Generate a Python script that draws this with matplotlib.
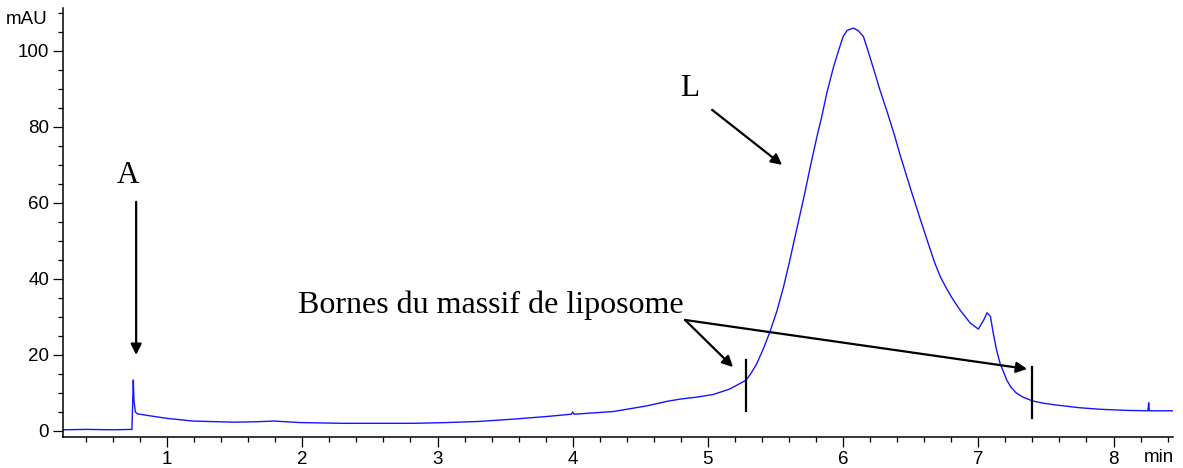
import numpy as np
import matplotlib
matplotlib.use("Agg")
import matplotlib.pyplot as plt
from matplotlib.ticker import MultipleLocator

# Chromatogram trace (time in min, absorbance in mAU)
time_min = [
    0.23, 0.40, 0.60, 0.74, 0.745, 0.75, 0.755, 0.765, 0.78, 0.85,
    1.00, 1.19, 1.49, 1.65, 1.79, 1.98, 2.30, 2.58, 2.82, 3.07,
    3.31, 3.56, 3.81, 3.99, 4.00, 4.01, 4.30, 4.55, 4.70, 4.80,
    4.92, 5.04, 5.16, 5.28, 5.32, 5.36, 5.41, 5.46, 5.51, 5.56,
    5.60, 5.65, 5.71, 5.76, 5.81, 5.84, 5.88, 5.93, 5.97, 6.00,
    6.03, 6.075, 6.11, 6.15, 6.18, 6.22, 6.27, 6.33, 6.38, 6.42,
    6.50, 6.57, 6.63, 6.68, 6.72, 6.76, 6.80, 6.865, 6.94, 7.00,
    7.04, 7.065, 7.09, 7.11, 7.135, 7.16, 7.21, 7.24, 7.28, 7.33,
    7.40, 7.48, 7.58, 7.75, 7.90, 8.10, 8.255, 8.26, 8.265, 8.44,
]
absorbance = [
    0.3, 0.4, 0.3, 0.4, 7.0, 13.4, 8.0, 5.0, 4.5, 4.1,
    3.3, 2.6, 2.3, 2.4, 2.6, 2.2, 2.0, 2.0, 2.0, 2.2,
    2.5, 3.1, 3.8, 4.4, 5.0, 4.4, 5.1, 6.6, 7.8, 8.4,
    8.9, 9.6, 11.0, 13.3, 15.2, 17.6, 21.6, 26.2, 31.5, 38.0,
    44.0, 52.0, 61.5, 70.0, 78.0, 82.4, 89.0, 95.9, 100.5, 103.8,
    105.4, 106.0, 105.4, 103.8, 100.5, 95.9, 90.0, 83.5, 77.8, 72.8,
    63.6, 55.8, 49.3, 44.0, 40.5, 37.8, 35.3, 31.8, 28.4, 26.8,
    29.2, 31.1, 30.1, 25.8, 21.3, 17.9, 13.4, 11.6, 10.0, 8.9,
    7.9, 7.3, 6.8, 6.1, 5.7, 5.4, 5.3, 7.4, 5.3, 5.3,
]

# Integration limits of the liposome peak
bounds_t = [5.28, 7.40]
bounds_lo = [5.3, 3.5]
bounds_hi = [18.7, 16.8]

ser = "Liberation Serif"
sans = "Liberation Sans"

fig = plt.figure(figsize=(11.83, 4.68), dpi=100)
ax = fig.add_axes([63 / 1183, 31 / 468, (1173 - 63) / 1183, (437 - 8) / 468])

ax.plot(time_min, absorbance, color="#1414ff", lw=1.0)

for t, lo, hi in zip(bounds_t, bounds_lo, bounds_hi):
    ax.plot([t, t], [lo, hi], color="k", lw=1.6)

ax.set_xlim(0.23, 8.44)
ax.set_ylim(-1.6, 111.3)

ax.xaxis.set_major_locator(MultipleLocator(1))
ax.xaxis.set_minor_locator(MultipleLocator(0.2))
ax.yaxis.set_major_locator(MultipleLocator(20))
ax.yaxis.set_minor_locator(MultipleLocator(5))
ax.tick_params(which="major", length=7.5, width=0.9, labelsize=13.5, pad=2.5)
ax.tick_params(which="minor", length=3.8, width=0.9)
for lab in ax.get_xticklabels() + ax.get_yticklabels():
    lab.set_fontfamily(sans)

for side in ("top", "right"):
    ax.spines[side].set_visible(False)
for side in ("left", "bottom"):
    ax.spines[side].set_linewidth(1.1)

# axis units
ax.annotate("mAU", xy=(0, 1), xycoords="axes fraction", xytext=(-10.8, -8.6),
            textcoords="offset points", ha="right", va="center",
            fontsize=13.5, family=sans)
ax.annotate("min", xy=(1, 0), xycoords="axes fraction", xytext=(-9.9, -14.4),
            textcoords="offset points", ha="center", va="center",
            fontsize=13.5, family=sans)

arrow = dict(arrowstyle="-|>", color="k", lw=1.6, mutation_scale=16,
             shrinkA=0, shrinkB=0)

ax.text(0.711, 65.3, "A", ha="center", va="baseline", fontsize=22.5, family=ser)
ax.annotate("", xy=(0.771, 20.0), xytext=(0.771, 60.3), arrowprops=arrow)

ax.text(4.868, 88.2, "L", ha="center", va="baseline", fontsize=22.5, family=ser)
ax.annotate("", xy=(5.549, 70.0), xytext=(5.031, 84.5), arrowprops=arrow)

ax.text(1.969, 31.1, "Bornes du massif de liposome", ha="left", va="baseline",
        fontsize=23, family=ser)
ax.annotate("", xy=(5.186, 16.8), xytext=(4.831, 29.2), arrowprops=arrow)
ax.annotate("", xy=(7.361, 16.3), xytext=(4.831, 29.2), arrowprops=arrow)

fig.savefig("out.png", dpi=100)
